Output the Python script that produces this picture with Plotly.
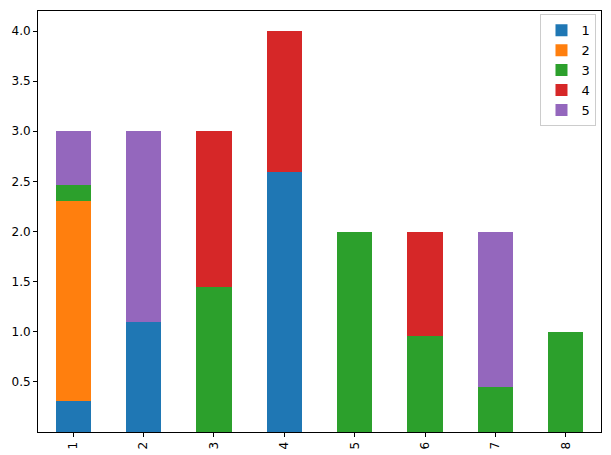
import plotly.graph_objects as go

categories = ["1", "2", "3", "4", "5", "6", "7", "8"]
series_names = ["1", "2", "3", "4", "5"]
s1 = [0.31, 1.10, 0.0, 2.59, 0.0, 0.0, 0.0, 0.0]
s2 = [1.99, 0.0, 0.0, 0.0, 0.0, 0.0, 0.0, 0.0]
s3 = [0.16, 0.0, 1.45, 0.0, 2.0, 0.96, 0.445, 1.0]
s4 = [0.0, 0.0, 1.55, 1.41, 0.0, 1.04, 0.0, 0.0]
s5 = [0.54, 1.90, 0.0, 0.0, 0.0, 0.0, 1.555, 0.0]
colors = ["#1f77b4", "#ff7f0e", "#2ca02c", "#d62728", "#9467bd"]
ytick_vals = [0.5, 1.0, 1.5, 2.0, 2.5, 3.0, 3.5, 4.0]
ytick_text = ["0.5", "1.0", "1.5", "2.0", "2.5", "3.0", "3.5", "4.0"]

fig = go.Figure()
for name, vals, c in zip(series_names, [s1, s2, s3, s4, s5], colors):
    fig.add_trace(go.Bar(x=categories, y=vals, name=name, marker_color=c,
                         marker_line_width=0, width=0.5))

fig.update_layout(
    barmode="stack",
    width=611, height=455,
    margin=dict(l=38, r=10, t=11, b=23),
    plot_bgcolor="white", paper_bgcolor="white",
    font=dict(family="DejaVu Sans", size=12, color="black"),
    legend=dict(x=0.992, y=0.992, xanchor="right", yanchor="top",
                traceorder="normal", bordercolor="#cccccc", borderwidth=1,
                bgcolor="rgba(255,255,255,0.8)", font=dict(size=13)),
    xaxis=dict(type="category", range=[-0.5, 7.5], showline=True, mirror=True,
               linecolor="black", linewidth=1, ticks="outside", ticklen=4,
               tickcolor="black", tickangle=-90, showgrid=False,
               tickfont=dict(size=12), automargin=False),
    yaxis=dict(range=[0, 4.2], showline=True, mirror=True, linecolor="black",
               linewidth=1, ticks="outside", ticklen=4, tickcolor="black",
               tickvals=ytick_vals, ticktext=ytick_text, showgrid=False,
               zeroline=False, tickfont=dict(size=12), automargin=False),
)
fig.write_html("out.html")
